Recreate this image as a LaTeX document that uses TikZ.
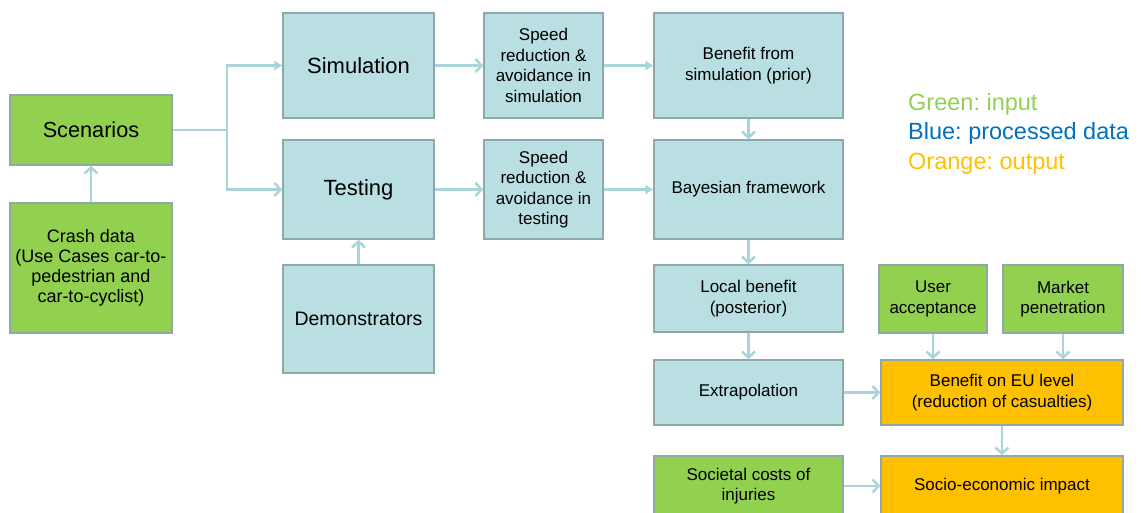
\documentclass[tikz,border=0pt]{standalone}
\usepackage{fontspec}
\setmainfont{Liberation Sans}
\usetikzlibrary{arrows.meta}
\definecolor{bfill}{HTML}{B9DFE2}
\definecolor{gfill}{HTML}{92D050}
\definecolor{ofill}{HTML}{FFC000}
\definecolor{bdr}{HTML}{8FA8AA}
\definecolor{conncol}{HTML}{A8D5DA}
\definecolor{legblue}{HTML}{0070C0}
\frenchspacing
\begin{document}
\begin{tikzpicture}[x=1pt,y=-1pt,
 box/.style={draw=bdr,line width=1.5pt,align=center,inner sep=0pt,font=\fontsize{17}{20.5}\selectfont},
 bbox/.style={box,fill=bfill},
 gbox/.style={box,fill=gfill},
 obox/.style={box,fill=ofill},
 big/.style={font=\fontsize{22}{26}\selectfont},
 legend/.style={anchor=base west,inner sep=0pt,font=\fontsize{23.5}{28}\selectfont},
 conn/.style={draw=conncol,line width=2.5pt,-{Straight Barb[length=6pt,width=13pt]}},
 connf/.style={draw=conncol,line width=2.5pt,-{Triangle[length=8pt,width=9pt]}},
 plain/.style={draw=conncol,line width=2.5pt},
]
\useasboundingbox (0,0) rectangle (1141,512);
\clip (0,0) rectangle (1141,512);

\node[gbox,font=\fontsize{21.7}{26}\selectfont,minimum width=162pt,minimum height=70pt] (scen) at (91,130) {Scenarios};
\node[gbox,font=\fontsize{18}{20}\selectfont,minimum width=162pt,minimum height=130pt] (crash) at (91,268) {Crash data\\(Use Cases car-to-\\pedestrian and\\car-to-cyclist)};
\node[bbox,big,minimum width=151pt,minimum height=105pt] (sim) at (358.5,65.5) {Simulation};
\node[bbox,big,minimum width=151pt,minimum height=99pt] (test) at (358.5,189.5) {Testing};
\node[bbox,font=\fontsize{19.5}{23}\selectfont,minimum width=151pt,minimum height=108pt] (demo) at (358.5,319) {Demonstrators};
\node[bbox,minimum width=119pt,minimum height=105pt] (ssim) at (543.5,65.5) {Speed\\reduction \&\\avoidance in\\simulation};
\node[bbox,minimum width=119pt,minimum height=99pt] (stest) at (543.5,189.5) {Speed\\reduction \&\\avoidance in\\testing};
\node[bbox,minimum width=189pt,minimum height=105pt] (bsim) at (748.5,65.5) {Benefit from\\simulation (prior)};
\node[bbox,minimum width=189pt,minimum height=99pt] (bayes) at (748.5,189.5) {Bayesian framework};
\node[bbox,minimum width=189pt,minimum height=67pt] (local) at (748.5,298.5) {Local benefit\\(posterior)};
\node[bbox,minimum width=189pt,minimum height=65pt] (extra) at (748.5,392.5) {Extrapolation};
\node[gbox,minimum width=108pt,minimum height=68pt] (user) at (933,299) {User\\acceptance};
\node[gbox,minimum width=120pt,minimum height=68pt] (market) at (1063,299) {Market\\penetration};
\node[obox,minimum width=242pt,minimum height=65pt] (eu) at (1002,392.5) {Benefit on EU level\\(reduction of casualties)};
\node[gbox,minimum width=189pt,minimum height=60pt] (soc) at (748.5,486) {Societal costs of\\injuries};
\node[obox,minimum width=242pt,minimum height=60pt] (socio) at (1002,486) {Socio-economic impact};

\node[legend,text=gfill] (lg) at (908,110) {Green: input};
\node[legend,text=legblue] (lb) at (908,139.5) {Blue: processed data};
\node[legend,text=ofill] (lo) at (908,169) {Orange: output};

\coordinate (j) at (227,130);
\draw[conn] (crash) -- (scen);
\draw[plain] (scen.east) -- (j);
\draw[connf] (j) |- (sim.west);
\draw[conn] (j) |- (test.west);
\draw[conn] (demo) -- (test);
\draw[conn] (sim) -- (ssim);
\draw[conn] (test) -- (stest);
\draw[connf] (ssim) -- (bsim);
\draw[connf] (stest) -- (bayes);
\draw[conn] (bsim) -- (bayes);
\draw[conn] (bayes) -- (local);
\draw[conn] (local) -- (extra);
\draw[conn] (extra) -- (eu);
\draw[conn] (user) -- (user |- eu.north);
\draw[conn] (market) -- (market |- eu.north);
\draw[conn] (eu) -- (socio);
\draw[conn] (soc) -- (socio);
\end{tikzpicture}
\end{document}
